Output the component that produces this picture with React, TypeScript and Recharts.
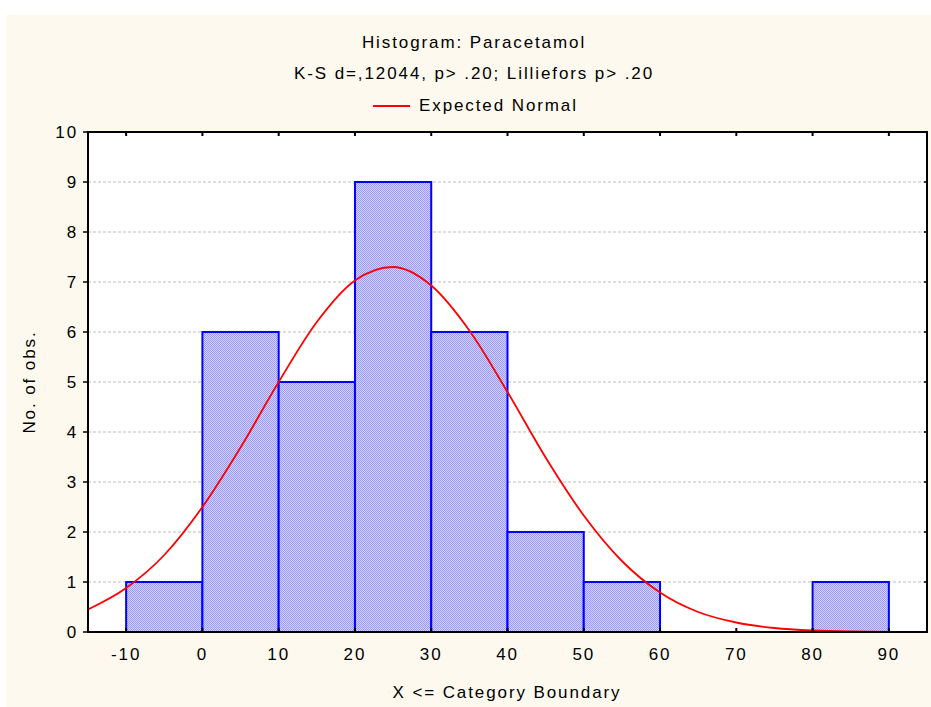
import React from "react";
import {
  ComposedChart,
  Line,
  XAxis,
  YAxis,
  CartesianGrid,
  ReferenceArea,
} from "recharts";

const binStarts = [-10, 0, 10, 20, 30, 40, 50, 60, 70, 80];
const binWidth = 10;
const counts = [1, 6, 5, 9, 6, 2, 1, 0, 0, 1];

const curveX = [-15, -10, -5, 0, 5, 10, 15, 20, 25, 30, 35, 40, 45, 50, 55, 60, 65, 70, 75, 80, 85, 90, 95];
const curveY = [0.45, 0.88, 1.54, 2.5, 3.69, 5.0, 6.2, 7.03, 7.3, 6.93, 6.03, 4.8, 3.49, 2.33, 1.42, 0.79, 0.4, 0.19, 0.08, 0.03, 0.01, 0.004, 0.001];

const xTicks = [-10, 0, 10, 20, 30, 40, 50, 60, 70, 80, 90];
const yTicks = [0, 1, 2, 3, 4, 5, 6, 7, 8, 9, 10];
const xDomain: [number, number] = [-15, 95];
const yDomain: [number, number] = [0, 10];

const titleLines = ["Histogram: Paracetamol", "K-S d=,12044, p> .20; Lilliefors p> .20"];
const legendLabel = "Expected Normal";
const xLabel = "X <= Category Boundary";
const yLabel = "No. of obs.";

const curveData = curveX.map((x, i) => ({ x, y: curveY[i] }));
const bins = binStarts
  .map((s, i) => ({ x1: s, x2: s + binWidth, count: counts[i] }))
  .filter((b) => b.count > 0);

const FONT = "'Liberation Sans', Arial, sans-serif";
const FS = 17;
const LS = 1.9;

const textStyle: React.CSSProperties = {
  position: "absolute",
  lineHeight: "20px",
  fontSize: FS,
  letterSpacing: LS,
  color: "#000",
  whiteSpace: "nowrap",
};

const tickStyle = { fill: "#000", fontSize: FS, fontFamily: FONT, letterSpacing: LS };

export default function App() {
  return (
    <div
      style={{
        position: "absolute",
        left: 0,
        top: 0,
        width: 931,
        height: 707,
        background: "#ffffff",
        fontFamily: FONT,
        overflow: "hidden",
      }}
    >
      <div
        style={{
          position: "absolute",
          left: 6,
          top: 15,
          width: 925,
          height: 692,
          background: "#FDF9EE",
        }}
      />
      {titleLines.map((t, i) => (
        <div
          key={i}
          style={{ ...textStyle, left: 0, width: 948, top: 33 + i * 31, textAlign: "center" }}
        >
          {t}
        </div>
      ))}
      <div
        style={{
          position: "absolute",
          left: 373,
          top: 105,
          width: 37,
          height: 2,
          background: "#ff0000",
        }}
      />
      <div style={{ ...textStyle, left: 419, top: 96 }}>{legendLabel}</div>
      <div style={{ ...textStyle, left: 0, width: 1014, top: 683, textAlign: "center" }}>
        {xLabel}
      </div>
      <div
        style={{
          ...textStyle,
          left: 30,
          top: 382,
          transform: "translate(-50%, -50%) rotate(-90deg)",
        }}
      >
        {yLabel}
      </div>
      <div style={{ position: "absolute", left: 0, top: 0 }}>
        <ComposedChart
          width={931}
          height={707}
          data={curveData}
          margin={{ top: 132, right: 4, bottom: 45, left: 58 }}
        >
          <defs>
            <pattern id="hatch" width="2" height="2" patternUnits="userSpaceOnUse">
              <rect x="0" y="0" width="2" height="2" fill="#d4d4ff" />
              <rect x="0" y="0" width="1" height="1" fill="#9898f6" />
              <rect x="1" y="1" width="1" height="1" fill="#9898f6" />
            </pattern>
          </defs>
          <CartesianGrid
            vertical={false}
            horizontal
            stroke="#bdbdbd"
            strokeDasharray="3 2"
            fill="#ffffff"
            fillOpacity={1}
          />
          <XAxis
            dataKey="x"
            type="number"
            domain={xDomain}
            ticks={xTicks}
            allowDataOverflow
            height={30}
            axisLine={{ stroke: "#000", strokeWidth: 2 }}
            tickLine={{ stroke: "#000", strokeWidth: 2 }}
            tickSize={-4}
            tickMargin={20}
            tick={tickStyle}
            interval={0}
          />
          <XAxis
            xAxisId="top"
            dataKey="x"
            type="number"
            orientation="top"
            domain={xDomain}
            ticks={xTicks}
            allowDataOverflow
            mirror
            axisLine={{ stroke: "#000", strokeWidth: 2 }}
            tickLine={{ stroke: "#000", strokeWidth: 2 }}
            tickSize={4}
            tick={{ fill: "none", fontSize: 1 }}
            interval={0}
          />
          <YAxis
            type="number"
            domain={yDomain}
            ticks={yTicks}
            allowDataOverflow
            width={30}
            axisLine={{ stroke: "#000", strokeWidth: 2 }}
            tickLine={{ stroke: "#000", strokeWidth: 1.5 }}
            tickSize={5}
            tickMargin={5}
            tick={tickStyle}
            interval={0}
          />
          <YAxis
            yAxisId="right"
            orientation="right"
            type="number"
            domain={yDomain}
            ticks={yTicks}
            allowDataOverflow
            mirror
            axisLine={{ stroke: "#000", strokeWidth: 2 }}
            tickLine={{ stroke: "#000", strokeWidth: 1.5 }}
            tickSize={3}
            tick={{ fill: "none", fontSize: 1 }}
            interval={0}
          />
          {bins.map((b, i) => (
            <ReferenceArea
              key={i}
              x1={b.x1}
              x2={b.x2}
              y1={0}
              y2={b.count}
              fill="url(#hatch)"
              fillOpacity={1}
              stroke="#0000ff"
              strokeWidth={2}
              ifOverflow="visible"
            />
          ))}
          <ReferenceArea
            x1={xDomain[0]}
            x2={xDomain[1]}
            y1={yDomain[0]}
            y2={yDomain[1]}
            fill="none"
            stroke="#000"
            strokeWidth={2}
            ifOverflow="visible"
          />
          <Line
            type="monotone"
            dataKey="y"
            stroke="#ff0000"
            strokeWidth={1.8}
            dot={false}
            activeDot={false}
            isAnimationActive={false}
          />
        </ComposedChart>
      </div>
    </div>
  );
}
